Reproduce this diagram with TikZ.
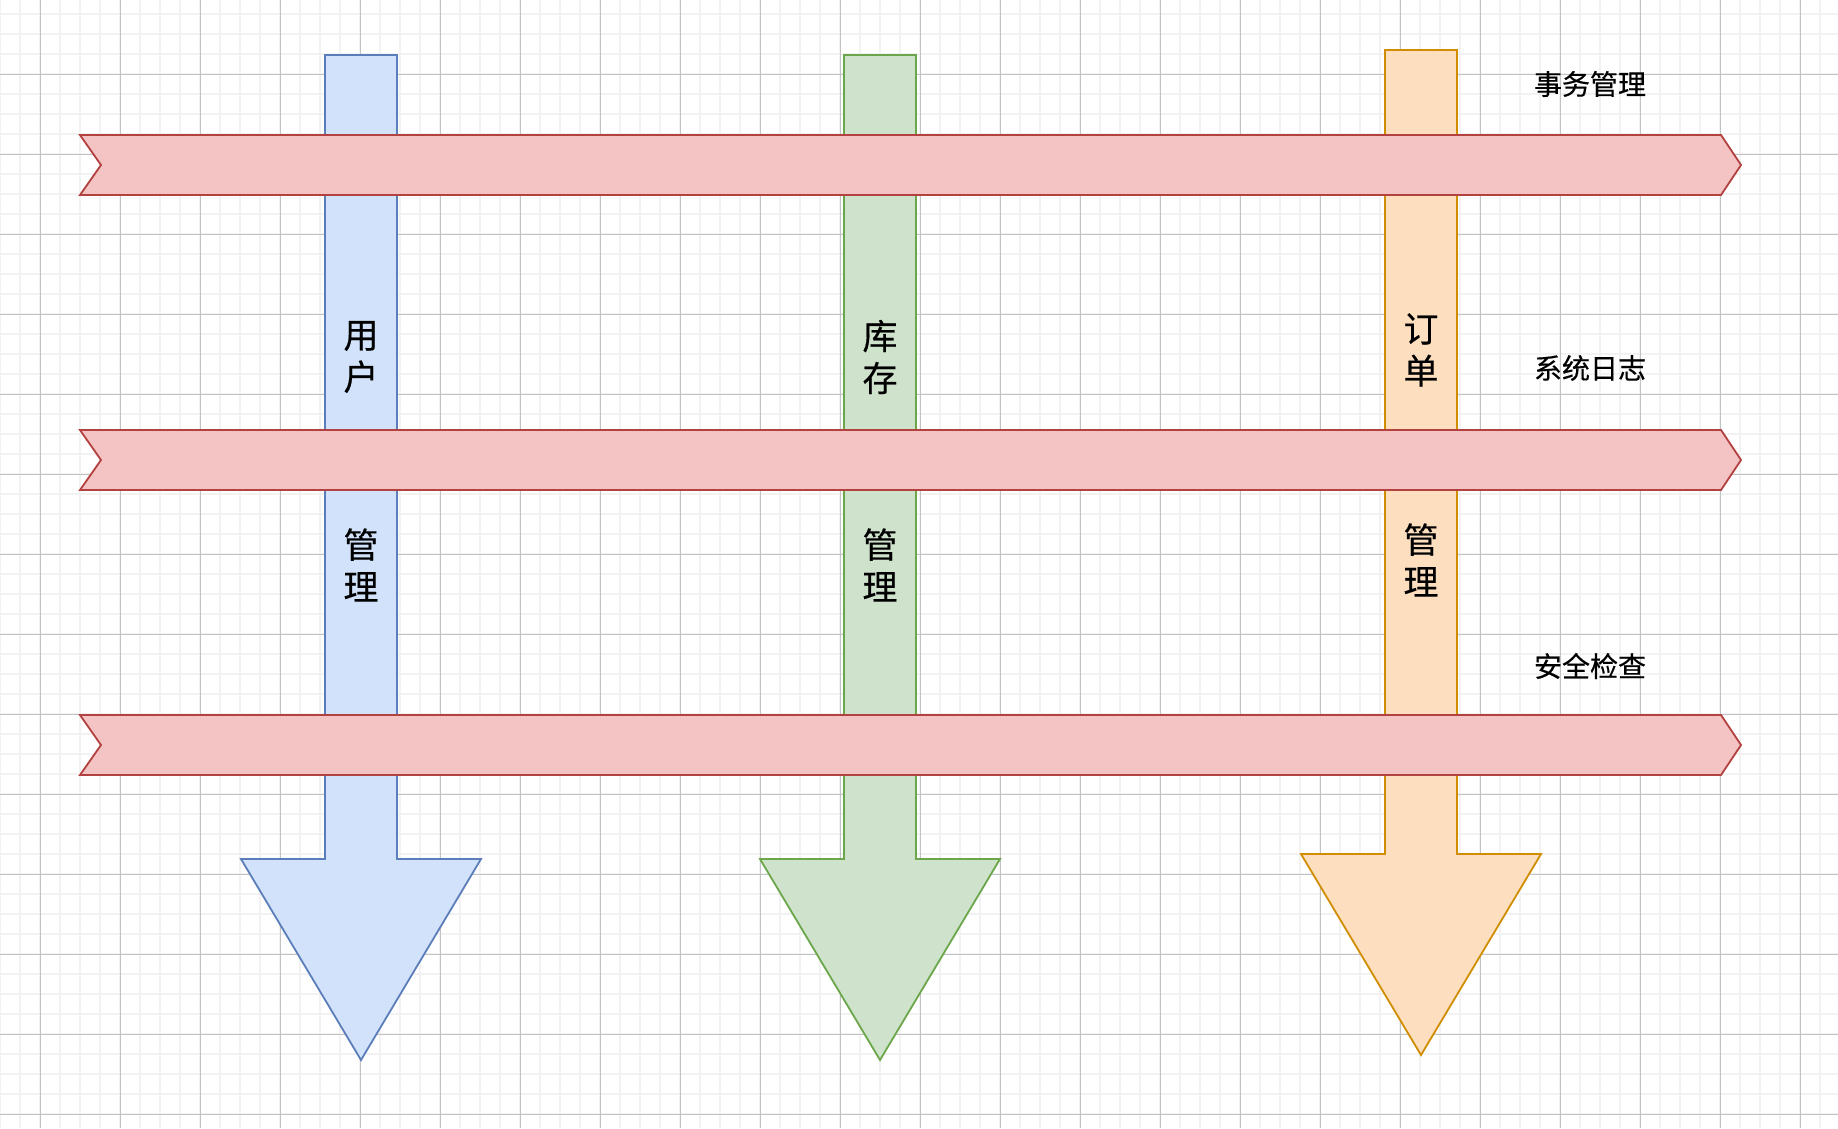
\documentclass[tikz,border=0pt]{standalone}
\usepackage{fontspec}
\setmainfont{Noto Sans CJK SC}[FakeBold=0.4]
\newfontfamily\cjkheavy{Noto Sans CJK SC}[FakeBold=0.4]
\begin{document}
\begin{tikzpicture}[x=1pt,y=-1pt,
  minorgrid/.style={line width=1.4pt,color=black!5},
  majorgrid/.style={line width=1pt,color=black!24},
  bluearrow/.style={fill=blueF,draw=blueD,line width=1.8pt,line join=miter},
  greenarrow/.style={fill=greenF,draw=greenD,line width=1.8pt,line join=miter},
  orangearrow/.style={fill=orangeF,draw=orangeD,line width=1.8pt,line join=miter},
  band/.style={fill=redF,draw=redD,line width=1.8pt,line join=miter},
  vlabel/.style={align=center,inner sep=0pt,font=\cjkheavy\fontsize{35}{42}\selectfont},
  hlabel/.style={inner sep=0pt,font=\cjkheavy\fontsize{28}{32}\selectfont}]
\definecolor{blueF}{HTML}{D1E2FA}
\definecolor{blueD}{HTML}{5B7DB9}
\definecolor{greenF}{HTML}{CFE3CC}
\definecolor{greenD}{HTML}{6BA74A}
\definecolor{orangeF}{HTML}{FDDFC0}
\definecolor{orangeD}{HTML}{D18D00}
\definecolor{redF}{HTML}{F4C3C3}
\definecolor{redD}{HTML}{B3413F}
\useasboundingbox[fill=white] (0,0) rectangle (1838,1128);
% grid
\foreach \x in {0,20,...,1830} \draw[minorgrid] (\x,0) -- (\x,1128);
\foreach \y in {14,34,...,1128} \draw[minorgrid] (0,\y) -- (1838,\y);
\foreach \x in {40,120,...,1830} \draw[majorgrid] (\x,0) -- (\x,1128);
\foreach \y in {74,154,...,1128} \draw[majorgrid] (0,\y) -- (1838,\y);
% vertical arrows
\draw[bluearrow] (325,55) -- (397,55) -- (397,859) -- (481,859) -- (361,1060) -- (241,859) -- (325,859) -- cycle;
\draw[greenarrow] (844,55) -- (916,55) -- (916,859) -- (1000,859) -- (880,1060) -- (760,859) -- (844,859) -- cycle;
\draw[orangearrow] (1385,50) -- (1457,50) -- (1457,854) -- (1541,854) -- (1421,1055) -- (1301,854) -- (1385,854) -- cycle;
% horizontal bands
\foreach \t/\m/\b in {135/165/195,430/460/490,715/745/775}
  \draw[band] (80,\t) -- (1721,\t) -- (1741,\m) -- (1721,\b) -- (80,\b) -- (101,\m) -- cycle;
% labels on arrows
\node[vlabel] (u1) at (361,357) {用\\户};
\node[vlabel] (u2) at (361,565) {管\\理};
\node[vlabel] (k1) at (880,357) {库\\存};
\node[vlabel] (k2) at (880,565) {管\\理};
\node[vlabel] (d1) at (1421,350) {订\\单};
\node[vlabel] (d2) at (1421,560) {管\\理};
% side labels
\node[hlabel] (t1) at (1590,84) {事务管理};
\node[hlabel] (t2) at (1590,368) {系统日志};
\node[hlabel] (t3) at (1590,666) {安全检查};
\end{tikzpicture}
\end{document}
